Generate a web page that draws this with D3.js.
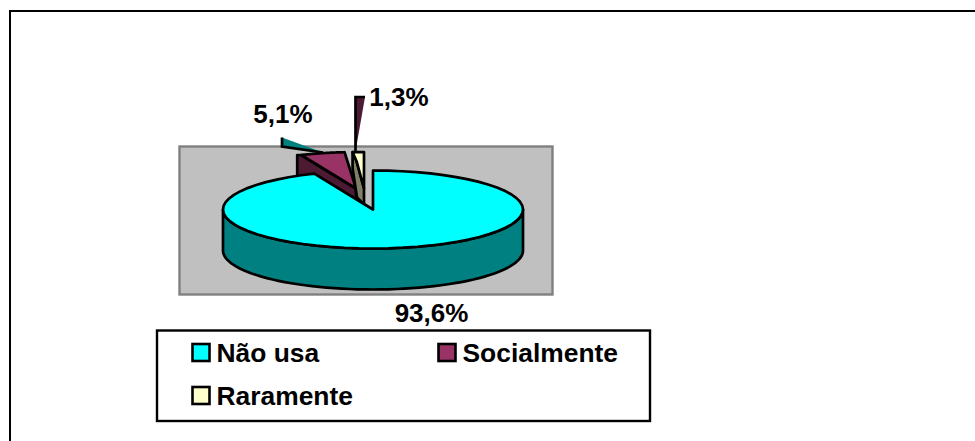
<!DOCTYPE html>
<html><head><meta charset="utf-8"><style>html,body{margin:0;background:#fff;overflow:hidden}svg{display:block}text{font-family:"Liberation Sans",Arial,sans-serif;font-weight:700;fill:#000}</style>
<script src="https://cdn.jsdelivr.net/npm/d3@7/dist/d3.min.js"></script></head><body><script>
const categories=["Não usa","Socialmente","Raramente"];
const seriesValues=[93.6,5.1,1.3];
const valueLabels=["93,6%","5,1%","1,3%"];
const colours=["#00ffff","#993366","#ffffcc"];
const sideColours=["#008080","#4d1a33","#808066"];

const svg=d3.select("body").append("svg").attr("width",975).attr("height",441);
// outer frame: top and left edges only are visible, the rest runs off the picture
svg.append("rect").attr("x",10).attr("y",11).attr("width",1000).attr("height",500).attr("fill","#fff").attr("stroke","#000").attr("stroke-width",2);
svg.append("rect").attr("x",179.5).attr("y",146.5).attr("width",373).attr("height",148).attr("fill","#c0c0c0").attr("stroke","#808080").attr("stroke-width",2.4);

const cx=373,cy=209.5,rx=150,ry=39,depth=41,sw=2.7;
const arcs=d3.pie().sort(null).value(d=>d)(seriesValues);
const sx=d3.scaleLinear().domain([-1,1]).range([-rx,rx]);
const sy=d3.scaleLinear().domain([-1,1]).range([ry,-ry]);
const pt=(a,k,o)=>[cx+o[0]+k*sx(Math.sin(a)),cy+o[1]+k*sy(Math.cos(a))];
const offs=[[0,0],[-17,-21],[-9,-21]];
const scales=[1,140/150,140/150];
const line=d3.line();
function path(pts,fill,stroke){
  return svg.append("path").attr("d",line(pts)+"Z").attr("fill",fill).attr("stroke",stroke||"#000").attr("stroke-width",sw).attr("stroke-linejoin","round");
}
function sector(i){
  const d=arcs[i],o=offs[i];
  return [[cx+o[0],cy+o[1]],...d3.range(0,61).map(k=>pt(d.startAngle+(d.endAngle-d.startAngle)*k/60,scales[i],o))];
}
// front wall of the large slice
const rim=d3.range(0,61).map(k=>pt(Math.PI/2+Math.PI*k/60,1,offs[0]));
path([...rim,...rim.slice().reverse().map(p=>[p[0],p[1]+depth])],sideColours[0]);

// stray slivers left by the exploded slices
const c=[cx,cy];
const sl=(dx,dy)=>[c[0]+dx,c[1]+dy];
function sliver(pts,fill,edges){
  svg.append("path").attr("d",line(pts)+"Z").attr("fill",fill);
  svg.append("path").attr("d",line(edges)).attr("fill","none").attr("stroke","#000").attr("stroke-width",sw);
}
sliver([sl(-91,-72),sl(-91,-63),sl(-50,-57)],sideColours[0],[sl(-91,-72),sl(-91,-63),sl(-50,-57)]);
sliver([sl(-17.5,-112.5),sl(-8,-112.5),sl(-17.5,-58)],sideColours[1],[sl(-8,-112.5),sl(-17.5,-112.5),sl(-17.5,-58)]);

// Socialmente wall + top
const sTop=sector(1);
path([sTop[1],[sTop[1][0]-4,sTop[1][1]],[sTop[1][0]-4,sTop[1][1]+22],[sTop[0][0],sTop[0][1]+10],sTop[0]],sideColours[1]);
path(sTop,colours[1]);
// Raramente wall + top
const rTop=sector(2);
const rL=rTop[1],rA=rTop[0];
path([rL,[rL[0]+4,rL[1]+9],rA,[rA[0],rA[1]+16],[rA[0]-7,rA[1]+9],[rL[0],rL[1]+16]],sideColours[2]);
path([[rL[0]+4,rL[1]+9],rL,...rTop.slice(2),rA],colours[2]);
// large slice top
path(sector(0),colours[0]);

// value labels
const labelX=[431.5,283,399],labelY=[321.5,122.5,106];
svg.selectAll(".v").data(valueLabels).join("text").attr("class","v").attr("x",(d,i)=>labelX[i]).attr("y",(d,i)=>labelY[i]).attr("text-anchor","middle").attr("font-size",26).text(d=>d);

// legend
svg.append("rect").attr("x",157).attr("y",330.5).attr("width",493).attr("height",90.5).attr("fill","#fff").attr("stroke","#000").attr("stroke-width",2.4);
const lx=[192.5,438.5,192.5],ly=[344,344,387];
const g=svg.selectAll(".l").data(categories).join("g").attr("class","l");
g.append("rect").attr("x",(d,i)=>lx[i]).attr("y",(d,i)=>ly[i]).attr("width",17).attr("height",17).attr("fill",(d,i)=>colours[i]).attr("stroke","#000").attr("stroke-width",2.6);
g.append("text").attr("x",(d,i)=>lx[i]+24).attr("y",(d,i)=>ly[i]+18).attr("font-size",26.4).text(d=>d);
</script></body></html>
